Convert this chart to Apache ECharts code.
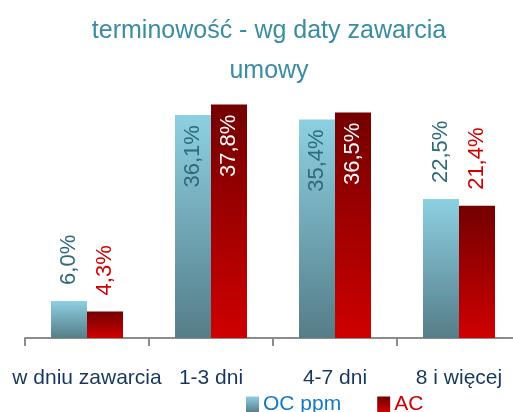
<!DOCTYPE html>
<html>
<head>
<meta charset="utf-8">
<script src="https://cdn.jsdelivr.net/npm/echarts@6/dist/echarts.min.js"></script>
<style>
  html, body { margin: 0; padding: 0; background: #fff; }
  #main { width: 513px; height: 412px; }
</style>
</head>
<body>
<div id="main"></div>
<script>
// dane
const categories = ['w dniu zawarcia', '1-3 dni', '4-7 dni', '8 i więcej'];
const ocPpm = [6.0, 36.1, 35.4, 22.5];
const ac = [4.3, 37.8, 36.5, 21.4];
const insideLimit = 30; // powyżej tej wartości etykieta w środku słupka

const font = 'Liberation Sans, Arial, sans-serif';

function pct(v) {
	return v.toFixed(1).replace('.', ',') + '%';
}

function barLabels(values, outColor, inColor) {
	return values.map(function (v) {
		const inside = v > insideLimit;
		return {
			value: v,
			label: inside ? {
				position: 'insideTop', rotate: 90, align: 'right', verticalAlign: 'middle',
				distance: 10, color: inColor
			} : {
				position: 'top', rotate: 90, align: 'left', verticalAlign: 'middle',
				distance: 16, color: outColor
			}
		};
	});
}

const ocGradient = new echarts.graphic.LinearGradient(0, 0, 0, 1, [
	{ offset: 0, color: '#8dd0e2' },
	{ offset: 1, color: '#557d88' }
]);
const acGradient = new echarts.graphic.LinearGradient(0, 0, 0, 1, [
	{ offset: 0, color: '#730000' },
	{ offset: 1, color: '#cf0000' }
]);

const myChart = echarts.init(document.getElementById('main'));

const option = {
	animation: false,
	title: {
		text: 'terminowość - wg daty zawarcia\numowy',
		left: 264,
		textAlign: 'center',
		top: 6,
		textStyle: {
			fontFamily: font, fontSize: 25, fontWeight: 'normal',
			color: '#3a8ca2', lineHeight: 40
		}
	},
	legend: {
		top: 394,
		left: 246,
		padding: 0,
		itemWidth: 13,
		itemHeight: 16,
		itemGap: 36,
		textStyle: { fontFamily: font, fontSize: 21, padding: [0, 0, 0, -1] },
		data: [
			{ name: 'OC ppm', icon: 'rect', textStyle: { color: '#1478c4' } },
			{ name: 'AC', icon: 'rect', textStyle: { color: '#cc0000' } }
		]
	},
	grid: { left: 25, top: 91, bottom: 74, width: 496, outerBoundsMode: 'none', containLabel: false },
	xAxis: {
		type: 'category',
		data: categories,
		axisLine: { lineStyle: { color: '#8c8c8c', width: 2 } },
		axisTick: { show: true, length: 8, lineStyle: { color: '#8c8c8c', width: 2 } },
		axisLabel: {
			fontFamily: font, fontSize: 21, color: '#17375e', margin: 30, interval: 0
		}
	},
	yAxis: {
		type: 'value', min: 0, max: 40, show: false
	},
	series: [
		{
			name: 'OC ppm',
			type: 'bar',
			barWidth: 36,
			barGap: '0%',
			itemStyle: { color: ocGradient },
			label: {
				show: true, fontFamily: font, fontSize: 22,
				formatter: function (p) { return pct(p.value); }
			},
			data: barLabels(ocPpm, '#2e6a7a', '#2e6a7a')
		},
		{
			name: 'AC',
			type: 'bar',
			barWidth: 36,
			itemStyle: { color: acGradient },
			label: {
				show: true, fontFamily: font, fontSize: 22,
				formatter: function (p) { return pct(p.value); }
			},
			data: barLabels(ac, '#d00000', '#ffffff')
		}
	]
};

myChart.setOption(option);
</script>
</body>
</html>
